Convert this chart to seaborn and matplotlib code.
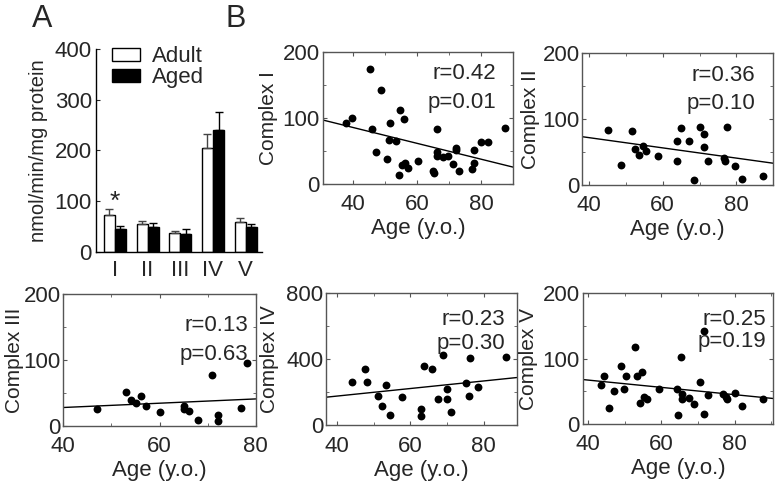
import matplotlib.pyplot as plt
import numpy as np
import pandas as pd
import seaborn as sns
from matplotlib.patches import Patch
from matplotlib.ticker import MultipleLocator

# Panel A: complex activities, adult vs aged (mean + upper SEM)
complexes = ["I", "II", "III", "IV", "V"]
adult_mean = [73, 56, 37, 204, 60]
adult_sem = [11, 6, 4, 29, 6]
aged_mean = [45, 50, 35, 240, 49]
aged_sem = [7, 8, 10, 35, 7]

# Panel B: activity vs age, one pair of lists per complex
c1_age = [37.7, 39.8, 45.3, 46.0, 48.8, 47.3, 50.6, 51.6, 51.2, 53.3, 54.6, 55.9,
          54.2, 55.4, 56.1, 57.1, 60.2, 65.1, 65.2, 66.3, 66.3, 66.3, 68.1, 69.6,
          71.2, 72.2, 72.2, 73.2, 77.2, 77.9, 77.9, 80.0, 82.1, 87.6]
c1_val = [93, 100, 174, 84, 142, 48, 38, 93, 67, 65, 112, 99,
          14, 29, 32, 24, 35, 19, 17, 83, 49, 42, 41, 42,
          30, 54, 51, 19, 23, 32, 51, 63, 63, 85]

c2_age = [45.2, 48.7, 51.6, 52.5, 54.7, 53.5, 55.6, 58.7, 63.9, 63.9, 65.1, 67.1,
          68.5, 70.1, 71.2, 71.1, 72.2, 76.5, 77.0, 77.5, 79.5, 81.6, 87.3]
c2_val = [83, 31, 82, 55, 59, 45, 51, 44, 67, 37, 86, 67,
          7, 87, 77, 58, 36, 41, 37, 88, 28, 9, 13]

c3_age = [47.1, 53.0, 54.1, 55.1, 56.1, 57.1, 60.1, 65.0, 65.0, 66.1, 68.1, 71.0,
          72.1, 72.1, 77.0, 78.1]
c3_val = [25, 51, 39, 35, 45, 31, 21, 30, 25, 23, 9, 77, 16, 7, 27, 95]

c4_age = [44.2, 47.6, 48.3, 51.3, 52.3, 53.4, 54.5, 57.7, 62.8, 62.8, 63.8, 66.0,
          67.6, 68.9, 70.1, 70.1, 71.1, 75.3, 75.9, 76.3, 78.4, 86.1]
c4_val = [265, 339, 265, 180, 119, 244, 65, 172, 101, 57, 358, 339,
          162, 428, 218, 160, 83, 255, 176, 408, 232, 412]

c5_age = [43.5, 44.4, 45.6, 47.1, 49.0, 49.8, 50.3, 52.9, 53.4, 54.7, 54.0, 55.1,
          56.0, 59.2, 64.3, 64.4, 65.4, 65.5, 65.5, 67.5, 69.0, 70.5, 71.5, 71.6,
          72.6, 76.9, 77.5, 77.9, 80.0, 82.0, 87.7]
c5_val = [59, 74, 24, 51, 89, 54, 74, 118, 73, 79, 32, 42,
          38, 54, 54, 13, 103, 46, 38, 40, 31, 65, 142, 16,
          44, 46, 41, 38, 47, 28, 39]

# fitted regression lines as drawn in the figure (intercept, slope)
fit_intercept = [133.6, 102.6, 15.0, 85.5, 89.5]
fit_slope = [-1.20, -0.774, 0.325, 2.29, -0.558]
stat_r = ["0.42", "0.36", "0.13", "0.23", "0.25"]
stat_p = ["0.01", "0.10", "0.63", "0.30", "0.19"]

sns.set_style("ticks")
plt.rcParams["font.family"] = ["Liberation Sans", "DejaVu Sans"]
plt.rcParams["font.size"] = 15
FS = 16

fig = plt.figure(figsize=(7.76, 4.86), dpi=100)

# ---- panel A
axA = fig.add_axes([0.1237, 0.4815, 0.2139, 0.4177])
bars = pd.DataFrame({
    "complex": complexes * 2,
    "group": ["Adult"] * 5 + ["Aged"] * 5,
    "value": adult_mean + aged_mean,
})
sns.barplot(data=bars, x="complex", y="value", hue="group",
            palette={"Adult": "white", "Aged": "black"}, edgecolor="black",
            linewidth=1, width=0.68, errorbar=None, legend=False, ax=axA)
for cont, means, sems, ec in zip(axA.containers, [adult_mean, aged_mean],
                                 [adult_sem, aged_sem], ["#444444", "black"]):
    xs = [p.get_x() + p.get_width() / 2 for p in cont.patches]
    axA.errorbar(xs, means, yerr=[np.zeros(5), sems], fmt="none",
                 ecolor=ec, elinewidth=1, capsize=3, capthick=1, zorder=1)
axA.text(0.0, 76, "*", ha="center", va="bottom", fontsize=19)
axA.set_xlim(-0.58, 4.5)
axA.set_ylim(0, 400)
axA.set_yticks([0, 100, 200, 300, 400])
axA.set_xlabel("")
axA.set_ylabel("nmol/min/mg protein", fontsize=14.5)
axA.yaxis.set_label_coords(-0.29, 0.5)
axA.tick_params(axis="y", direction="in", length=3, pad=3, labelsize=FS)
axA.tick_params(axis="x", length=0, pad=6, labelsize=FS)
sns.despine(ax=axA)
for s in ["left", "bottom"]:
    axA.spines[s].set_color("black")
    axA.spines[s].set_linewidth(1)
handles = [Patch(facecolor="white", edgecolor="black"),
           Patch(facecolor="black", edgecolor="black")]
axA.legend(handles, ["Adult", "Aged"], loc="upper left", bbox_to_anchor=(0.0, 1.09),
           frameon=False, handlelength=1.3, handleheight=0.5, labelspacing=0.0,
           handletextpad=0.5, fontsize=FS, borderaxespad=0.3)

# ---- panel B
rects = [[0.4159, 0.6214, 0.2452, 0.2716],
         [0.7504, 0.6193, 0.2461, 0.2722],
         [0.0816, 0.1235, 0.2479, 0.2716],
         [0.4201, 0.1249, 0.2457, 0.2716],
         [0.7509, 0.1276, 0.2456, 0.2689]]
xlims = [(30.5, 90), (38.2, 90), (40, 80), (37, 89), (38.5, 90.5)]
ylims = [(0, 200), (0, 200), (0, 200), (0, 800), (0, 200)]
names = ["Complex I", "Complex II", "Complex III", "Complex IV", "Complex V"]
ages = [c1_age, c2_age, c3_age, c4_age, c5_age]
vals = [c1_val, c2_val, c3_val, c4_val, c5_val]
ylab_x = [-0.235, -0.22, -0.205, -0.245, -0.235]
txt_x = [0.91, 0.904, 0.962, 0.94, 0.965]
txt_r = [0.84, 0.83, 0.765, 0.80, 0.80]
txt_p = [0.62, 0.62, 0.54, 0.62, 0.63]

for i in range(5):
    ax = fig.add_axes(rects[i])
    sns.scatterplot(x=ages[i], y=vals[i], color="black", s=32, linewidth=0, ax=ax)
    ax.axline((0, fit_intercept[i]), slope=fit_slope[i], color="black", lw=1)
    ax.set_xlim(*xlims[i])
    ax.set_ylim(*ylims[i])
    ax.set_xticks([40, 60, 80])
    ax.xaxis.set_minor_locator(MultipleLocator(10))
    top = ylims[i][1]
    ax.set_yticks([0, top / 2, top])
    ax.set_yticklabels([str(int(v)) for v in [0, top / 2, top]])
    ax.yaxis.set_minor_locator(MultipleLocator(top / 4))
    ax.tick_params(which="both", direction="in", top=True, right=True,
                   labelsize=FS, color="#555555")
    ax.tick_params(which="major", length=3)
    ax.tick_params(which="minor", length=2)
    ax.tick_params(axis="y", pad=2)
    ax.tick_params(axis="x", pad=7.5)
    for s in ax.spines.values():
        s.set_color("#555555")
        s.set_linewidth(1)
    ax.set_ylabel(names[i], fontsize=15)
    ax.yaxis.set_label_coords(ylab_x[i], 0.5)
    ax.set_xlabel("Age (y.o.)", fontsize=FS, va="top")
    ax.xaxis.set_label_coords(0.5, -0.26)
    ax.text(txt_x[i], txt_r[i], "r=" + stat_r[i], transform=ax.transAxes,
            ha="right", va="center", fontsize=FS)
    ax.text(txt_x[i], txt_p[i], "p=" + stat_p[i], transform=ax.transAxes,
            ha="right", va="center", fontsize=FS)

fig.text(42 / 776, 1 - 19 / 486, "A", ha="center", va="center", fontsize=22)
fig.text(236 / 776, 1 - 19 / 486, "B", ha="center", va="center", fontsize=22)

fig.savefig("out.png", dpi=100)
